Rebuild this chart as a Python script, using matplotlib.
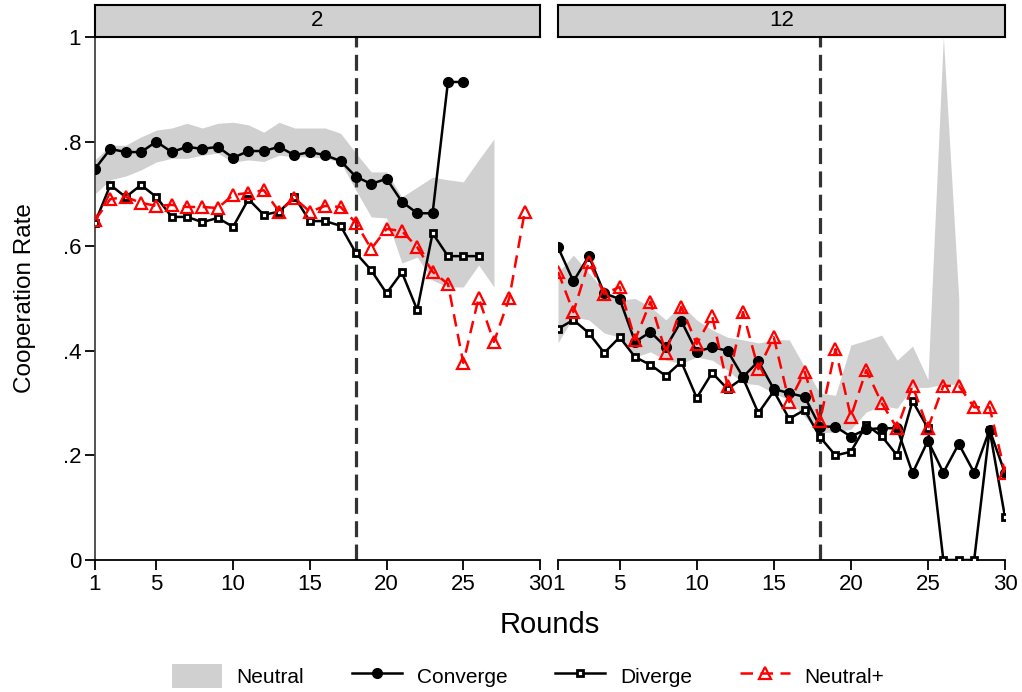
import numpy as np
import matplotlib
matplotlib.use("Agg")
from matplotlib import pyplot as plt
from matplotlib.lines import Line2D
from matplotlib.patches import Patch

plt.rcParams['font.family'] = ['Liberation Sans', 'DejaVu Sans']

nan = np.nan
rounds = np.arange(1, 31)
panels = ["2", "12"]
xtick_vals = [1, 5, 10, 15, 20, 25, 30]
ytick_vals = [0, 0.2, 0.4, 0.6, 0.8, 1.0]
ytick_labels = ["0", ".2", ".4", ".6", ".8", "1"]
break_round = 18

# panel "2"
conv_2 = [0.748, 0.786, 0.780, 0.780, 0.800, 0.780, 0.790, 0.786, 0.790, 0.769,
          0.782, 0.782, 0.790, 0.774, 0.780, 0.774, 0.763, 0.733, 0.719, 0.729,
          0.685, 0.663, 0.663, 0.914, 0.914, nan, nan, nan, nan, nan]
div_2 = [0.645, 0.717, 0.694, 0.717, 0.694, 0.656, 0.656, 0.646, 0.654, 0.637,
         0.690, 0.660, 0.666, 0.694, 0.648, 0.648, 0.639, 0.587, 0.554, 0.510,
         0.550, 0.478, 0.625, 0.581, 0.581, 0.581, nan, nan, nan, nan]
nplus_2 = [0.650, 0.690, 0.694, 0.683, 0.677, 0.679, 0.675, 0.675, 0.673, 0.698,
           0.702, 0.707, 0.666, 0.692, 0.666, 0.677, 0.675, 0.645, 0.595, 0.633,
           0.629, 0.598, 0.551, 0.528, 0.377, 0.501, 0.417, 0.501, 0.665, nan]
neut_lo_2 = [0.700, 0.727, 0.734, 0.746, 0.761, 0.768, 0.768, 0.774, 0.778, 0.761,
             0.765, 0.762, 0.774, 0.771, 0.771, 0.768, 0.761, 0.707, 0.656, 0.654,
             0.568, 0.579, 0.535, 0.522, 0.522, 0.564, 0.522, nan, nan, nan]
neut_hi_2 = [0.765, 0.793, 0.793, 0.809, 0.822, 0.826, 0.835, 0.826, 0.835, 0.837,
             0.832, 0.818, 0.837, 0.826, 0.826, 0.826, 0.816, 0.778, 0.742, 0.742,
             0.694, 0.713, 0.732, 0.727, 0.723, 0.765, 0.805, nan, nan, nan]

# panel "12"
conv_12 = [0.598, 0.533, 0.581, 0.510, 0.499, 0.417, 0.436, 0.407, 0.457, 0.398,
           0.407, 0.400, 0.350, 0.380, 0.327, 0.319, 0.312, 0.255, 0.255, 0.236,
           0.250, 0.252, 0.252, 0.166, 0.228, 0.167, 0.222, 0.167, 0.249, 0.166]
div_12 = [0.442, 0.459, 0.434, 0.396, 0.426, 0.388, 0.373, 0.352, 0.379, 0.310,
          0.358, 0.327, 0.348, 0.281, 0.323, 0.270, 0.287, 0.235, 0.200, 0.207,
          0.258, 0.237, 0.200, 0.304, 0.252, 0.0, 0.0, 0.0, 0.249, 0.082]
nplus_12 = [0.551, 0.474, 0.570, 0.509, 0.522, 0.421, 0.494, 0.396, 0.484, 0.413,
            0.467, 0.333, 0.474, 0.365, 0.426, 0.302, 0.360, 0.266, 0.403, 0.274,
            0.363, 0.300, 0.252, 0.333, 0.252, 0.333, 0.333, 0.292, 0.292, 0.167]
neut_lo_12 = [0.415, 0.465, 0.459, 0.434, 0.426, 0.388, 0.398, 0.382, 0.376, 0.388,
              0.382, 0.363, 0.338, 0.335, 0.319, 0.306, 0.274, 0.243, 0.245, 0.250,
              0.283, 0.295, 0.290, 0.330, 0.330, 0.336, 0.336, nan, nan, nan]
neut_hi_12 = [0.549, 0.583, 0.549, 0.516, 0.497, 0.500, 0.484, 0.459, 0.488, 0.459,
              0.440, 0.426, 0.421, 0.415, 0.421, 0.421, 0.369, 0.319, 0.315, 0.411,
              0.420, 0.430, 0.382, 0.409, 0.345, 1.000, 0.500, nan, nan, nan]

data = {
    "2": (conv_2, div_2, nplus_2, neut_lo_2, neut_hi_2),
    "12": (conv_12, div_12, nplus_12, neut_lo_12, neut_hi_12),
}

band_col = '#d0d0d0'
red = '#ff0000'
W, H = 1022, 692

fig = plt.figure(figsize=(W / 100, H / 100), dpi=100)

# pixel boxes of the two panels
lefts = [95, 558]
rights = [540, 1005]
top_px, bot_px = 37, 560
strip_top = 5

conv_kw = dict(color='black', lw=1.8, marker='o', ms=7, mfc='black', mec='black')
div_kw = dict(color='black', lw=1.8, marker='s', ms=5, mfc='white', mec='black', mew=2)
nplus_kw = dict(color=red, lw=1.8, ls=(0, (5, 3)), marker='^', ms=8, mfc='none',
                mec=red, mew=1.6)

for i, name in enumerate(panels):
    conv, div, nplus, lo, hi = [np.array(a, dtype=float) for a in data[name]]
    x0 = lefts[i] / W
    w = (rights[i] - lefts[i]) / W
    y0 = 1 - bot_px / H
    h = (bot_px - top_px) / H
    ax = fig.add_axes([x0, y0, w, h])

    m = ~np.isnan(lo)
    ax.fill_between(rounds[m], lo[m], hi[m], color=band_col, lw=0, zorder=1)
    ax.axvline(break_round, color='#333333', lw=2.3, ls=(0, (5, 2.3)), zorder=2)
    ax.plot(rounds, conv, zorder=4, **conv_kw)
    ax.plot(rounds, div, zorder=3, **div_kw)
    ax.plot(rounds, nplus, zorder=5, **nplus_kw)

    ax.set_xlim(1, 30)
    ax.set_ylim(0, 1)
    ax.set_xticks(xtick_vals)
    ax.tick_params(axis='x', length=7, width=1.3, labelsize=16, pad=3)
    for s in ['top', 'right']:
        ax.spines[s].set_visible(False)
    ax.spines['bottom'].set_linewidth(1.3)
    if i == 0:
        ax.set_yticks(ytick_vals)
        ax.set_yticklabels(ytick_labels)
        ax.tick_params(axis='y', length=7, width=1.3, labelsize=16, pad=3)
        ax.spines['left'].set_linewidth(1.3)
        ax.spines['left'].set_color('#444444')
        ax.set_ylabel("Cooperation Rate", fontsize=17.5, labelpad=19)
    else:
        ax.spines['left'].set_visible(False)
        ax.set_yticks([])

    # header strip
    sax = fig.add_axes([x0, 1 - top_px / H, w, (top_px - strip_top) / H])
    sax.set_facecolor(band_col)
    sax.set_xticks([])
    sax.set_yticks([])
    for s in sax.spines.values():
        s.set_linewidth(1.5)
    sax.text(0.5, 0.5, name, ha='center', va='center', fontsize=16,
             transform=sax.transAxes)

fig.text((95 + 1005) / 2 / W, 1 - 625 / H, "Rounds", ha='center', va='center',
         fontsize=21)

handles = [
    Patch(facecolor=band_col, edgecolor='none'),
    Line2D([], [], **conv_kw),
    Line2D([], [], **div_kw),
    Line2D([], [], **nplus_kw),
]
labels = ["Neutral", "Converge", "Diverge", "Neutral+"]
fig.legend(handles, labels, loc='center', bbox_to_anchor=(528 / W, 1 - 676 / H),
           ncol=4, frameon=False, fontsize=15, handlelength=2.4,
           handleheight=1.4, handletextpad=0.7, columnspacing=2.3)

fig.savefig("out.png", dpi=100)
